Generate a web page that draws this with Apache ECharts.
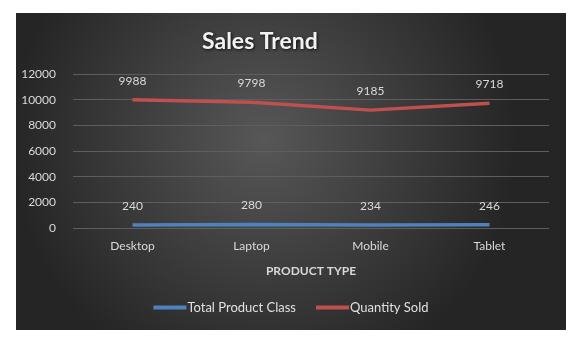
<!DOCTYPE html>
<html>
<head>
<meta charset="utf-8">
<script src="https://cdn.jsdelivr.net/npm/echarts@6/dist/echarts.min.js"></script>
<style>
html,body{margin:0;padding:0;background:#fff;width:582px;height:347px;overflow:hidden;}
#c{position:absolute;left:16px;top:13px;width:550px;height:317px;}
</style>
</head>
<body>
<div id="c"></div>
<script>
var categories = ['Desktop', 'Laptop', 'Mobile', 'Tablet'];
var totalProductClass = [240, 280, 234, 246];
var quantitySold = [9988, 9798, 9185, 9718];
var yTicks = { min: 0, max: 12000, interval: 2000 };

var chart = echarts.init(document.getElementById('c'), null, {renderer: 'canvas'});
var txt = '#d9d9d9';
var font = 'Lato, "Noto Sans", sans-serif';
function lineSeries(name, data, color) {
  return {
    name: name, type: 'line', data: data,
    symbol: 'circle', symbolSize: 0.1, showSymbol: true,
    lineStyle: {width: 3.5, color: color}, itemStyle: {color: color},
    label: {show: true, position: 'top', distance: 13, color: txt, fontSize: 12, fontFamily: font}
  };
}
chart.setOption({
  backgroundColor: {
    type: 'radial', x: 0.45, y: 0.4, r: 0.8,
    colorStops: [{offset: 0, color: '#575757'}, {offset: 1, color: '#252525'}]
  },
  animation: false,
  textStyle: {fontFamily: font},
  title: {
    text: 'Sales Trend',
    left: 181, top: 12,
    textStyle: {
      color: '#f2f2f2', fontSize: 23, fontWeight: 'bold', fontFamily: font,
      textShadowColor: 'rgba(0,0,0,0.8)', textShadowBlur: 3, textShadowOffsetX: 1, textShadowOffsetY: 1
    }
  },
  legend: {
    bottom: 11, left: 'center',
    itemWidth: 33, itemHeight: 4, itemGap: 20,
    icon: 'rect',
    textStyle: {color: '#e0e0e0', fontSize: 13, fontFamily: font, padding: [0, 0, 0, -4]},
    data: ['Total Product Class', 'Quantity Sold']
  },
  grid: {left: 57, right: 17, top: 61, bottom: 102, containLabel: false},
  xAxis: {
    type: 'category', data: categories, boundaryGap: true,
    name: 'PRODUCT TYPE', nameLocation: 'middle', nameGap: 37,
    nameTextStyle: {color: txt, fontSize: 12, fontWeight: 'bold', fontFamily: font},
    axisLine: {show: false}, axisTick: {show: false},
    axisLabel: {color: txt, fontSize: 12, margin: 12, fontFamily: font}
  },
  yAxis: {
    type: 'value', min: yTicks.min, max: yTicks.max, interval: yTicks.interval,
    axisLine: {show: false}, axisTick: {show: false},
    axisLabel: {color: txt, fontSize: 12, margin: 17, fontFamily: font, formatter: function (v) { return String(v); }},
    splitLine: {lineStyle: {color: '#5e5e5e', width: 1}}
  },
  series: [
    lineSeries('Total Product Class', totalProductClass, '#4f81bd'),
    lineSeries('Quantity Sold', quantitySold, '#c0504d')
  ]
});
</script>
</body>
</html>
